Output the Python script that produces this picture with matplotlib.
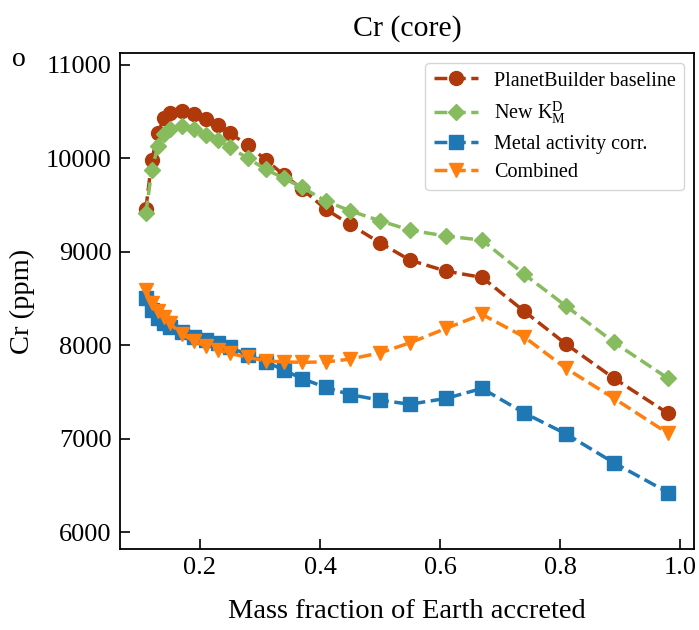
import matplotlib
matplotlib.use('Agg')
import matplotlib.pyplot as plt

plt.rcParams['font.family'] = ['Liberation Serif', 'DejaVu Serif']
plt.rcParams['mathtext.fontset'] = 'custom'
plt.rcParams['mathtext.rm'] = 'Liberation Serif'
plt.rcParams['mathtext.it'] = 'Liberation Serif:italic'

# mass fraction of Earth accreted
frac = [0.11, 0.12, 0.13, 0.14, 0.15, 0.17, 0.19, 0.21, 0.23, 0.25, 0.28, 0.31,
        0.34, 0.37, 0.41, 0.45, 0.50, 0.55, 0.61, 0.67, 0.74, 0.81, 0.89, 0.98]

baseline = [9458, 9983, 10269, 10429, 10489, 10511, 10475, 10422, 10358, 10269, 10143, 9983,
            9822, 9675, 9455, 9294, 9097, 8912, 8794, 8727, 8366, 8013, 7646, 7271]
new_kd = [9412, 9876, 10133, 10260, 10310, 10350, 10311, 10251, 10197, 10119, 10001, 9883,
          9787, 9690, 9544, 9440, 9333, 9233, 9169, 9126, 8762, 8420, 8031, 7646]
metal_act = [8502, 8377, 8288, 8234, 8191, 8145, 8091, 8056, 8020, 7984, 7895, 7823,
             7735, 7645, 7549, 7474, 7413, 7370, 7432, 7539, 7277, 7052, 6742, 6425]
combined = [8588, 8456, 8370, 8300, 8235, 8120, 8045, 7992, 7950, 7914, 7870, 7834,
            7823, 7818, 7823, 7852, 7920, 8027, 8181, 8331, 8091, 7753, 7432, 7057]

labels = ['PlanetBuilder baseline', r'New $\mathrm{K}_\mathrm{M}^\mathrm{D}$',
          'Metal activity corr.', 'Combined']
series = [baseline, new_kd, metal_act, combined]
colors = ['#b0390c', '#86bc5e', '#1f77b4', '#ff7f0e']
markers = ['o', 'D', 's', 'v']
sizes = [10, 8.5, 9.5, 10.5]

fig = plt.figure(figsize=(6.99, 6.30), dpi=100)
ax = fig.add_axes([0.1717, 0.1286, 0.8211, 0.7868])

for ys, lab, c, m, ms in zip(series, labels, colors, markers, sizes):
    ax.plot(frac, ys, linestyle='--', color=c, marker=m, markersize=ms,
            linewidth=2.5, label=lab)

ax.set_xlim(0.067, 1.023)
ax.set_ylim(5821, 11125)
ax.set_xticks([0.2, 0.4, 0.6, 0.8, 1.0])
ax.set_yticks([6000, 7000, 8000, 9000, 10000, 11000])
ax.tick_params(direction='in', length=7, width=1.2, labelsize=19, pad=6)
for sp in ax.spines.values():
    sp.set_linewidth(1.3)

ax.set_xlabel('Mass fraction of Earth accreted', fontsize=20.5, labelpad=14)
ax.set_ylabel('Cr (ppm)', fontsize=20.5, labelpad=8)
ax.set_title('Cr (core)', fontsize=21.5, pad=13)
ax.legend(loc='upper right', fontsize=14.5, handlelength=2.2, borderpad=0.4,
          labelspacing=0.45)

fig.text(0.017, 0.895, 'o', fontsize=20, va='baseline')

fig.savefig('out.png', dpi=100)
